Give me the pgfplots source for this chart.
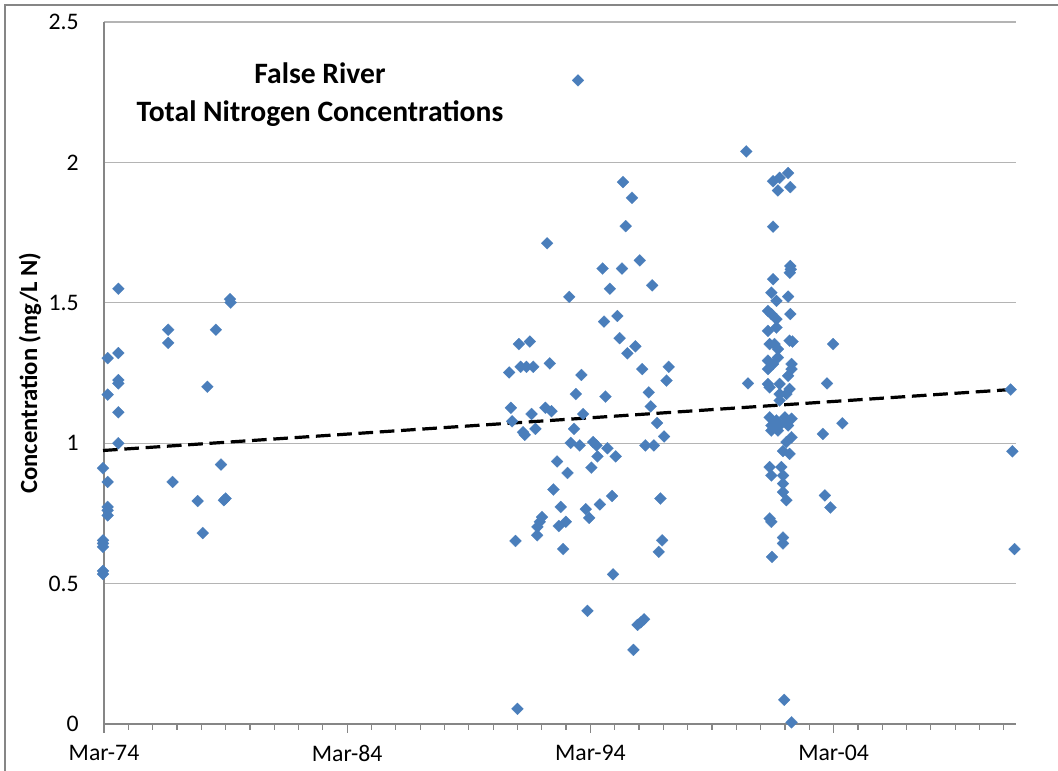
\documentclass[border=0pt]{standalone}
\usepackage{fontspec}
\setmainfont{Carlito}
\usepackage{pgfplots}
\pgfplotsset{compat=1.18}
\definecolor{mblue}{RGB}{74,126,187}
\definecolor{gridc}{RGB}{180,180,180}
\definecolor{axc}{RGB}{134,134,134}
\begin{document}
\begin{tikzpicture}
\begin{axis}[
  at={(0,0)}, anchor=south west,
  scale only axis, width=684pt, height=526.5pt,
  xmin=0, xmax=37.5, ymin=0, ymax=2.5,
  axis x line*=bottom, axis y line*=left,
  axis line style={draw=axc, line width=0.9pt},
  xtick={0,10,20,30},
  xticklabels={Mar-74,Mar-84,Mar-94,Mar-04},
  minor xtick={1,2,3,4,5,6,7,8,9,11,12,13,14,15,16,17,18,19,21,22,23,24,25,26,27,28,29,31,32,33,34,35,36,37},
  tick align=outside,
  major tick length=6.75pt, minor tick length=4.5pt,
  x tick style={draw=axc, line width=0.9pt},
  ytick={0,0.5,1,1.5,2,2.5},
  y tick style={draw=none},
  ymajorgrids, grid style={draw=gridc, line width=0.8pt},
  /pgf/number format/assume math mode=true,
  tick label style={font=\fontsize{17.8}{20}\selectfont},
  xticklabel style={anchor=north, inner sep=0pt, yshift=-9pt},
  yticklabel style={anchor=east, inner sep=0pt, xshift=-12pt},
  ylabel={Concentration (mg/L N)},
  ylabel style={at={(axis description cs:-0.0811,0.5)}, anchor=center, font=\bfseries\fontsize{18.5}{20}\selectfont},
  clip=false,
]
\addplot[only marks, color=mblue, mark=square*, mark size=3.18pt, mark options={rotate=45, fill=mblue, draw=mblue, line width=0.1pt}] coordinates {
(-0.04,0.545) (-0.04,0.534) (-0.04,0.654) (-0.04,0.643) (-0.04,0.631) (-0.04,0.911)
(0.15,1.303) (0.15,1.173) (0.15,0.862) (0.15,0.773) (0.15,0.761) (0.15,0.743)
(0.59,1.550) (0.59,1.321) (0.59,1.225) (0.59,1.213) (0.59,1.110) (0.59,1.000)
(2.64,1.404) (2.64,1.357) (2.82,0.862)
(3.85,0.794) (4.06,0.680) (4.25,1.201) (4.60,1.404) (4.81,0.924) (4.93,0.797) (5.00,0.803) (5.18,1.513) (5.21,1.501)
(19.49,2.292)
(21.34,1.930) (21.71,1.874) (21.45,1.773) (18.22,1.712)
(20.50,1.622) (21.30,1.622) (22.03,1.651) (20.80,1.550) (22.54,1.562) (19.13,1.521)
(20.56,1.433) (21.11,1.453) (21.20,1.374) (21.52,1.320) (21.85,1.345)
(17.06,1.353) (17.51,1.362) (16.66,1.252) (17.13,1.272) (17.37,1.272) (17.65,1.272)
(18.33,1.284) (19.63,1.243) (22.13,1.264) (23.22,1.272) (23.13,1.223)
(19.40,1.175) (20.62,1.166) (22.40,1.181)
(16.73,1.126) (16.78,1.078) (17.23,1.039) (17.30,1.030) (17.58,1.104) (17.74,1.051) (18.15,1.126) (18.40,1.114)
(19.70,1.104) (19.33,1.051) (19.19,1.001) (19.56,0.992) (20.11,1.004) (20.25,0.992) (20.29,0.953) (20.70,0.982) (21.04,0.953)
(20.04,0.913) (18.63,0.935) (19.06,0.894) (18.48,0.835) (18.78,0.773)
(18.01,0.737) (17.92,0.720) (17.82,0.702) (17.81,0.672) (18.70,0.705) (18.99,0.720) (18.88,0.623) (16.92,0.652)
(19.81,0.765) (19.95,0.734) (20.39,0.782) (20.89,0.812) (20.93,0.533) (19.88,0.403)
(21.94,0.353) (22.07,0.362) (22.21,0.373) (21.77,0.264) (17.00,0.054)
(22.48,1.131) (22.74,1.072) (23.03,1.024) (22.26,0.992) (22.61,0.992) (22.88,0.803) (22.95,0.654) (22.81,0.613)
(26.41,2.039) (28.13,1.962) (27.51,1.933) (27.78,1.945) (27.71,1.900) (28.22,1.912) (27.51,1.771)
(28.22,1.631) (28.24,1.619) (28.20,1.607) (27.51,1.584) (27.44,1.536) (27.65,1.507) (28.13,1.522)
(27.30,1.471) (27.44,1.460) (27.65,1.442) (28.22,1.460) (27.30,1.400) (27.65,1.412)
(27.37,1.353) (27.57,1.353) (27.71,1.335) (28.19,1.365) (28.31,1.362) (29.98,1.353)
(27.30,1.294) (27.51,1.282) (27.71,1.305) (27.30,1.264) (28.27,1.282) (28.27,1.264) (28.13,1.240)
(26.48,1.213) (27.30,1.211) (27.78,1.211) (27.37,1.199) (28.19,1.193) (28.06,1.175) (27.78,1.175) (29.73,1.213)
(30.36,1.071) (29.56,1.033) (27.78,1.152)
(27.37,1.092) (27.65,1.081) (28.00,1.092) (28.06,1.075) (28.27,1.087) (27.44,1.063) (27.78,1.063)
(27.44,1.045) (27.71,1.045) (28.13,1.063)
(28.27,1.021) (28.06,1.004) (27.92,0.972) (28.19,0.962)
(27.37,0.915) (27.85,0.915) (27.44,0.885) (27.92,0.885) (27.92,0.856) (27.92,0.826) (28.06,0.797)
(29.64,0.814) (29.87,0.771) (27.37,0.732) (27.44,0.720) (27.92,0.664) (27.92,0.643) (27.47,0.595) (27.97,0.086) (28.27,0.006)
(37.28,1.191) (37.35,0.971) (37.44,0.623)
};
\addplot[black, line width=2.4pt, dash pattern=on 11pt off 5pt] coordinates {(-0.04,0.974) (37.28,1.191)};
\node[anchor=base, font=\bfseries\fontsize{22.2}{26}\selectfont] at (axis cs:8.88,2.281) {False River};
\node[anchor=base, font=\bfseries\fontsize{22.2}{26}\selectfont] at (axis cs:8.88,2.146) {Total Nitrogen Concentrations};
\end{axis}
\draw[axc, line width=1pt] (-74.25pt,-35.25pt) -- (-74.25pt,539.25pt) -- (715.5pt,539.25pt);
\pgfresetboundingbox
\useasboundingbox (-78pt,-35.25pt) rectangle (715.5pt,543pt);
\end{tikzpicture}
\end{document}
